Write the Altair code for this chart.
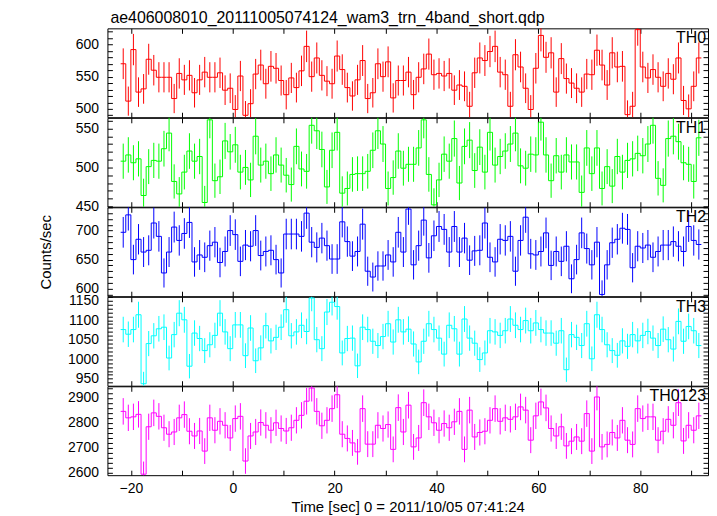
import altair as alt
import numpy as np
import pandas as pd

TITLE = "ae406008010_20111005074124_wam3_trn_4band_short.qdp"
X_TITLE = "Time [sec] 0 = 2011/10/05 07:41:24"
Y_TITLE = "Counts/sec"

BIN_START = -22.0
BIN_WIDTH = 1.0

names = ["TH0", "TH1", "TH2", "TH3", "TH0123"]

th0 = [570, 512, 592, 526, 531, 577, 560, 549, 549, 549,
       516, 555, 545, 552, 525, 545, 557, 549, 549, 556,
       529, 532, 499, 551, 490, 508, 554, 568, 539, 566,
       563, 544, 522, 548, 533, 559, 597, 550, 579, 552,
       543, 539, 582, 561, 533, 520, 545, 575, 516, 525,
       570, 550, 573, 517, 544, 544, 557, 522, 549, 562,
       585, 553, 555, 551, 555, 529, 537, 535, 504, 556,
       579, 575, 589, 597, 557, 553, 504, 584, 565, 532,
       499, 563, 614, 580, 587, 526, 578, 547, 540, 532,
       526, 554, 553, 591, 568, 537, 587, 565, 566, 491,
       504, 623, 565, 548, 561, 549, 535, 555, 546, 579,
       513, 500, 535, 579]

th1 = [508, 516, 506, 511, 464, 501, 509, 508, 524, 544,
       482, 466, 494, 521, 508, 514, 455, 561, 483, 488,
       534, 520, 529, 494, 500, 484, 540, 503, 508, 492,
       516, 503, 490, 478, 527, 498, 495, 554, 547, 523,
       475, 522, 545, 467, 473, 491, 492, 492, 495, 522,
       547, 530, 473, 487, 521, 499, 504,
       504, 525, 561, 491, 452, 484, 517, 508, 537, 480,
       527, 535, 496, 526, 494, 545, 503, 514, 521, 530,
       544, 502, 499, 517, 516, 558, 516, 483, 515, 494,
       516, 507, 507, 468, 525, 492, 525, 473, 501, 476,
       514, 494, 509, 511, 518, 515, 530, 554, 486, 477,
       537, 540, 533, 506, 504, 482, 538]

th2 = [697, 727, 650, 685, 663, 666, 713, 690, 627, 663,
       706, 683, 695, 714, 646, 658, 654, 674, 680, 645,
       664, 700, 693, 647, 675, 673, 700, 657, 664, 666,
       650, 627, 694, 694, 694, 690, 730, 680, 671, 687,
       674, 651, 651, 715, 681, 656, 664, 711, 630, 620,
       639, 639, 658, 646, 697, 663, 737,
       641, 674, 718, 653, 691, 707, 702, 663, 707, 663,
       687, 649, 665, 666, 713, 654, 646, 685, 683, 690,
       630, 683, 723, 660, 658, 664, 696, 640, 664, 647,
       673, 617, 650, 696, 669, 641, 680, 590, 641, 679,
       685, 704, 702, 636, 673, 670, 675, 654, 664, 675,
       675, 681, 673, 664, 707, 683, 676]

th3 = [1076, 1064, 1076, 1114, 937, 1040, 1060, 1078, 1082, 1003,
       1063, 1118, 1101, 982, 1067, 1053, 1022, 1037, 1061, 1118,
       1070, 1027, 1088, 1088, 1009, 1080, 996, 1029, 1086, 1047,
       1056, 1082, 1127, 1060, 1070, 1087, 1071, 1157, 1050, 1027,
       1121, 1146, 1135, 1016, 1053, 1054, 983, 1082, 1076, 1046,
       1035, 1058, 1091, 1044, 1101, 1070, 1077,
       1039, 993, 1046, 1091, 1076, 1054, 1013, 1087, 1078, 1013,
       1103, 1054, 1041, 999, 1016, 1073, 1070, 1061, 1073, 1103,
       1087, 1076, 1099, 1073, 1093, 1076, 1067, 1067, 1041, 1073,
       973, 1063, 1056, 1035, 1091, 1001, 1114, 1076, 1037, 1022,
       1010, 1047, 1033, 1063, 1047, 1061, 1071, 1054, 1035, 1077,
       1050, 1026, 1097, 1046, 1084, 1073, 1035]

th0123 = [2846, 2820, 2824, 2834, 2593, 2784, 2840, 2826, 2780, 2754,
          2763, 2820, 2833, 2766, 2747, 2767, 2686, 2820, 2770, 2806,
          2790, 2739, 2817, 2826, 2646, 2747, 2763, 2801, 2790, 2770,
          2800, 2777, 2767, 2780, 2810, 2830, 2887, 2940, 2846, 2788,
          2810, 2857, 2913, 2754, 2737, 2719, 2683, 2857, 2714, 2714,
          2790, 2777, 2793, 2693, 2861, 2763, 2871,
          2703, 2739, 2881, 2824, 2800, 2770, 2797, 2780, 2804, 2846,
          2693, 2851, 2743, 2761, 2766, 2810, 2857, 2806, 2820, 2814,
          2824, 2864, 2851, 2730, 2828, 2884, 2860, 2777, 2747, 2784,
          2707, 2726, 2743, 2726, 2837, 2686, 2904, 2703, 2713, 2761,
          2739, 2810, 2730, 2713, 2857, 2817, 2824, 2824, 2730, 2766,
          2814, 2790, 2881, 2727, 2790, 2770, 2828]

series = [th0, th1, th2, th3, th0123]
colors = ["#ff0000", "#00ff00", "#0000ff", "#00ffff", "#ff00ff"]
y_domains = [[487, 625], [449.6, 563.6], [587, 740], [932, 1160], [2589, 2947]]
y_major = [50, 50, 50, 50, 100]
y_minor = [10, 10, 10, 10, 20]

X_DOMAIN = [-24.6, 93.3]
X_TICKS = list(range(-20, 91, 10))
W = 604
H = 89.4
FONT = "Liberation Sans"
TICK = 5


def panel(k):
    vals = series[k]
    n = len(vals)
    starts = [BIN_START + i * BIN_WIDTH for i in range(n)]
    step_df = pd.DataFrame({"t": starts + [BIN_START + n * BIN_WIDTH],
                            "v": vals + [vals[-1]]})
    arr = np.array(vals, dtype=float)
    err = np.sqrt(arr)
    err_df = pd.DataFrame({"tc": [s + BIN_WIDTH / 2 for s in starts],
                           "lo": arr - err, "hi": arr + err})
    lo, hi = y_domains[k]
    mn, mj = y_minor[k], y_major[k]
    y_ticks = list(range(int(np.ceil(lo / mn) * mn), int(hi) + 1, mn))
    last = k == len(series) - 1
    xscale = alt.Scale(domain=X_DOMAIN, nice=False, zero=False)
    yscale = alt.Scale(domain=y_domains[k], nice=False, zero=False)

    x_bottom = alt.Axis(orient="bottom", values=X_TICKS, offset=-TICK, tickSize=TICK,
                        domain=False, grid=False, labels=last, format="d",
                        labelExpr="datum.value % 20 === 0 ? datum.label : ''",
                        labelPadding=6, titlePadding=5)
    y_left = alt.Axis(orient="left", values=y_ticks, offset=-TICK, tickSize=TICK,
                      domain=False, grid=False, format="d",
                      labelExpr=f"datum.value % {mj} === 0 ? datum.label : ''",
                      labelPadding=9, titlePadding=22)
    x_top = alt.Axis(orient="top", values=X_TICKS, offset=-TICK, tickSize=TICK,
                     domain=False, grid=False, labels=False)
    y_right = alt.Axis(orient="right", values=y_ticks, offset=-TICK, tickSize=TICK,
                       domain=False, grid=False, labels=False)

    step = alt.Chart(step_df).mark_line(
        interpolate="step-after", color=colors[k], strokeWidth=1, clip=True
    ).encode(
        x=alt.X("t:Q", scale=xscale, axis=x_bottom, title=X_TITLE if last else None),
        y=alt.Y("v:Q", scale=yscale, axis=y_left, title=Y_TITLE if k == 2 else None),
    )
    bars = alt.Chart(err_df).mark_rule(color=colors[k], strokeWidth=1, clip=True).encode(
        x=alt.X("tc:Q", scale=xscale, axis=x_top, title=None),
        y=alt.Y("lo:Q", scale=yscale, axis=y_right, title=None),
        y2="hi:Q",
    )
    label = alt.Chart(pd.DataFrame({"name": [names[k]]})).mark_text(
        align="right", baseline="middle", font=FONT, fontSize=16, color="black"
    ).encode(x=alt.value(W - 2), y=alt.value(10), text="name:N")
    layers = [step, bars, label]
    if k == 0:
        ttl = alt.Chart(pd.DataFrame({"title": [TITLE]})).mark_text(
            align="left", baseline="middle", font=FONT, fontSize=16, color="black"
        ).encode(x=alt.value(3), y=alt.value(-10), text="title:N")
        layers.append(ttl)
    return alt.layer(*layers).resolve_axis(x="independent", y="independent").properties(
        width=W, height=H)


chart = alt.vconcat(*[panel(k) for k in range(len(series))], spacing=0, bounds="flush").properties(
    padding={"left": 30, "top": 0, "right": 0, "bottom": 0}
).configure_view(
    stroke="black", strokeWidth=1
).configure_axis(
    labelFont=FONT, labelFontSize=14, labelColor="black", tickColor="black",
    titleFont=FONT, titleFontSize=15, titleFontWeight="normal", titleColor="black"
)

chart.save("out.html", embed_options={"renderer": "svg", "actions": False})
